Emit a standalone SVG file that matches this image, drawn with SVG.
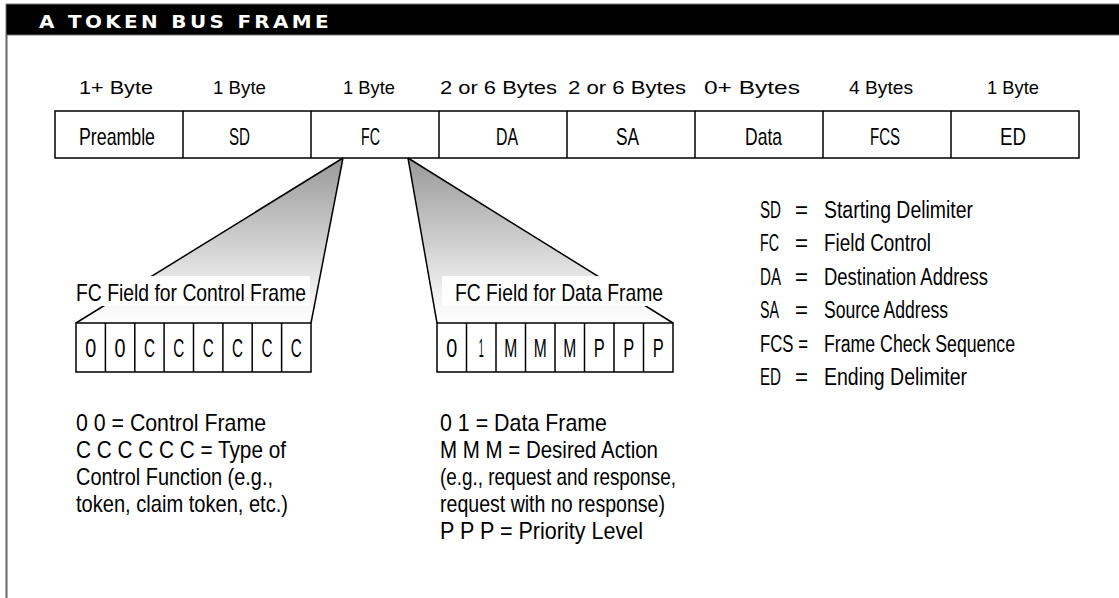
<svg xmlns="http://www.w3.org/2000/svg" width="1119" height="598" viewBox="0 0 1119 598">
<defs>
<linearGradient id="fan" x1="0" y1="0" x2="0" y2="1">
<stop offset="0" stop-color="#999999"/>
<stop offset="0.8" stop-color="#eeeeee"/>
<stop offset="1" stop-color="#ffffff"/>
</linearGradient>
<style>
.t{font-family:"Liberation Sans Narrow","Liberation Sans",Arial,sans-serif;fill:#000}
.b{font-size:19px}
.l{font-size:24px}
.k{font-size:26px;text-anchor:middle}
.g{font-size:23px}
.n{font-size:24px}
.box{fill:#fff;stroke:#000;stroke-width:1.5}
.ln{stroke:#000;stroke-width:1.5;fill:none}
.hdr{font-family:"DejaVu Sans",Verdana,sans-serif;font-weight:bold;font-size:18px;letter-spacing:3px;fill:#fff}
</style>
</defs>
<rect width="1119" height="598" fill="#fff"/>
<g id="header">
<rect x="6" y="4" width="1114" height="31" fill="#000" stroke="#777" stroke-width="1"/>
<line x1="6.5" y1="35" x2="6.5" y2="598" stroke="#666" stroke-width="2"/>
<text class="hdr" x="39" y="28" textLength="293" lengthAdjust="spacingAndGlyphs">A TOKEN BUS FRAME</text>
</g>
<g id="bytes">
<text class="t b" x="79" y="94" textLength="74" lengthAdjust="spacingAndGlyphs">1+ Byte</text>
<text class="t b" x="213" y="94" textLength="53" lengthAdjust="spacingAndGlyphs">1 Byte</text>
<text class="t b" x="343" y="94" textLength="52" lengthAdjust="spacingAndGlyphs">1 Byte</text>
<text class="t b" x="440" y="94" textLength="117" lengthAdjust="spacingAndGlyphs">2 or 6 Bytes</text>
<text class="t b" x="568" y="94" textLength="118" lengthAdjust="spacingAndGlyphs">2 or 6 Bytes</text>
<text class="t b" x="704" y="94" textLength="96" lengthAdjust="spacingAndGlyphs">0+ Bytes</text>
<text class="t b" x="849" y="94" textLength="64" lengthAdjust="spacingAndGlyphs">4 Bytes</text>
<text class="t b" x="987" y="94" textLength="52" lengthAdjust="spacingAndGlyphs">1 Byte</text>
</g>
<g id="frame">
<rect class="box" x="55" y="111" width="1024" height="47"/>
<line class="ln" x1="183" y1="111" x2="183" y2="158"/>
<line class="ln" x1="311" y1="111" x2="311" y2="158"/>
<line class="ln" x1="439" y1="111" x2="439" y2="158"/>
<line class="ln" x1="567" y1="111" x2="567" y2="158"/>
<line class="ln" x1="695" y1="111" x2="695" y2="158"/>
<line class="ln" x1="823" y1="111" x2="823" y2="158"/>
<line class="ln" x1="951" y1="111" x2="951" y2="158"/>
<text class="t l" x="79" y="145" textLength="76" lengthAdjust="spacingAndGlyphs">Preamble</text>
<text class="t l" x="229" y="145" textLength="21" lengthAdjust="spacingAndGlyphs">SD</text>
<text class="t l" x="361" y="145" textLength="19" lengthAdjust="spacingAndGlyphs">FC</text>
<text class="t l" x="496" y="145" textLength="22" lengthAdjust="spacingAndGlyphs">DA</text>
<text class="t l" x="616" y="145" textLength="23" lengthAdjust="spacingAndGlyphs">SA</text>
<text class="t l" x="745" y="145" textLength="37" lengthAdjust="spacingAndGlyphs">Data</text>
<text class="t l" x="870" y="145" textLength="30" lengthAdjust="spacingAndGlyphs">FCS</text>
<text class="t l" x="1000" y="145" textLength="26" lengthAdjust="spacingAndGlyphs">ED</text>
</g>
<g id="connectors">
<polygon points="343,158 311,323 76,323" fill="url(#fan)"/>
<line class="ln" x1="343" y1="158" x2="76" y2="323"/>
<rect x="74" y="276" width="236" height="30" fill="#fff"/>
<line class="ln" x1="343" y1="158" x2="311" y2="323"/>
<polygon points="408,158 437,323 673,323" fill="url(#fan)"/>
<line class="ln" x1="408" y1="158" x2="673" y2="323"/>
<rect x="442" y="276" width="228" height="30" fill="#fff"/>
<line class="ln" x1="408" y1="158" x2="437" y2="323"/>
</g>
<g id="control-frame">
<text class="t l" x="76" y="301" textLength="230" lengthAdjust="spacingAndGlyphs">FC Field for Control Frame</text>
<rect class="box" x="76" y="323" width="235" height="49"/>
<line class="ln" x1="105.4" y1="323" x2="105.4" y2="372"/>
<line class="ln" x1="134.8" y1="323" x2="134.8" y2="372"/>
<line class="ln" x1="164.1" y1="323" x2="164.1" y2="372"/>
<line class="ln" x1="193.5" y1="323" x2="193.5" y2="372"/>
<line class="ln" x1="222.9" y1="323" x2="222.9" y2="372"/>
<line class="ln" x1="252.2" y1="323" x2="252.2" y2="372"/>
<line class="ln" x1="281.6" y1="323" x2="281.6" y2="372"/>
<g class="t k">
<text x="90.7" y="357" textLength="11" lengthAdjust="spacingAndGlyphs">0</text>
<text x="120.1" y="357" textLength="11" lengthAdjust="spacingAndGlyphs">0</text>
<text x="149.4" y="357" textLength="11" lengthAdjust="spacingAndGlyphs">C</text>
<text x="178.8" y="357" textLength="11" lengthAdjust="spacingAndGlyphs">C</text>
<text x="208.2" y="357" textLength="11" lengthAdjust="spacingAndGlyphs">C</text>
<text x="237.6" y="357" textLength="11" lengthAdjust="spacingAndGlyphs">C</text>
<text x="266.9" y="357" textLength="11" lengthAdjust="spacingAndGlyphs">C</text>
<text x="296.3" y="357" textLength="11" lengthAdjust="spacingAndGlyphs">C</text>
</g>
</g>
<g id="data-frame">
<text class="t l" x="455" y="301" textLength="208" lengthAdjust="spacingAndGlyphs">FC Field for Data Frame</text>
<rect class="box" x="437" y="323" width="236" height="49"/>
<line class="ln" x1="466.5" y1="323" x2="466.5" y2="372"/>
<line class="ln" x1="496" y1="323" x2="496" y2="372"/>
<line class="ln" x1="525.5" y1="323" x2="525.5" y2="372"/>
<line class="ln" x1="555" y1="323" x2="555" y2="372"/>
<line class="ln" x1="584.5" y1="323" x2="584.5" y2="372"/>
<line class="ln" x1="614" y1="323" x2="614" y2="372"/>
<line class="ln" x1="643.5" y1="323" x2="643.5" y2="372"/>
<g class="t k">
<text x="451.8" y="357" textLength="11" lengthAdjust="spacingAndGlyphs">0</text>
<text x="481.3" y="357" textLength="5" lengthAdjust="spacingAndGlyphs">1</text>
<text x="510.8" y="357" textLength="13" lengthAdjust="spacingAndGlyphs">M</text>
<text x="540.3" y="357" textLength="13" lengthAdjust="spacingAndGlyphs">M</text>
<text x="569.8" y="357" textLength="13" lengthAdjust="spacingAndGlyphs">M</text>
<text x="599.3" y="357" textLength="11" lengthAdjust="spacingAndGlyphs">P</text>
<text x="628.8" y="357" textLength="11" lengthAdjust="spacingAndGlyphs">P</text>
<text x="658.3" y="357" textLength="11" lengthAdjust="spacingAndGlyphs">P</text>
</g>
</g>
<g id="legend">
<text class="t g" x="760" y="218" textLength="21" lengthAdjust="spacingAndGlyphs">SD</text><text class="t g" x="795" y="218" textLength="13" lengthAdjust="spacingAndGlyphs">=</text><text class="t g" x="824" y="218" textLength="149" lengthAdjust="spacingAndGlyphs">Starting Delimiter</text>
<text class="t g" x="760" y="251" textLength="19" lengthAdjust="spacingAndGlyphs">FC</text><text class="t g" x="795" y="251" textLength="13" lengthAdjust="spacingAndGlyphs">=</text><text class="t g" x="824" y="251" textLength="107" lengthAdjust="spacingAndGlyphs">Field Control</text>
<text class="t g" x="760" y="285" textLength="21" lengthAdjust="spacingAndGlyphs">DA</text><text class="t g" x="795" y="285" textLength="13" lengthAdjust="spacingAndGlyphs">=</text><text class="t g" x="824" y="285" textLength="164" lengthAdjust="spacingAndGlyphs">Destination Address</text>
<text class="t g" x="760" y="318" textLength="19" lengthAdjust="spacingAndGlyphs">SA</text><text class="t g" x="795" y="318" textLength="13" lengthAdjust="spacingAndGlyphs">=</text><text class="t g" x="824" y="318" textLength="124" lengthAdjust="spacingAndGlyphs">Source Address</text>
<text class="t g" x="760" y="352" textLength="48" lengthAdjust="spacingAndGlyphs">FCS =</text><text class="t g" x="824" y="352" textLength="191" lengthAdjust="spacingAndGlyphs">Frame Check Sequence</text>
<text class="t g" x="760" y="385" textLength="21" lengthAdjust="spacingAndGlyphs">ED</text><text class="t g" x="795" y="385" textLength="13" lengthAdjust="spacingAndGlyphs">=</text><text class="t g" x="824" y="385" textLength="143" lengthAdjust="spacingAndGlyphs">Ending Delimiter</text>
</g>
<g id="control-notes">
<text class="t n" x="76" y="431" textLength="190" lengthAdjust="spacingAndGlyphs">0 0 = Control Frame</text>
<text class="t n" x="76" y="458" textLength="210" lengthAdjust="spacingAndGlyphs">C C C C C C = Type of</text>
<text class="t n" x="76" y="485" textLength="197" lengthAdjust="spacingAndGlyphs">Control Function (e.g.,</text>
<text class="t n" x="76" y="512" textLength="212" lengthAdjust="spacingAndGlyphs">token, claim token, etc.)</text>
</g>
<g id="data-notes">
<text class="t n" x="440" y="431" textLength="167" lengthAdjust="spacingAndGlyphs">0 1 = Data Frame</text>
<text class="t n" x="440" y="458" textLength="218" lengthAdjust="spacingAndGlyphs">M M M = Desired Action</text>
<text class="t n" x="440" y="485" textLength="236" lengthAdjust="spacingAndGlyphs">(e.g., request and response,</text>
<text class="t n" x="440" y="512" textLength="225" lengthAdjust="spacingAndGlyphs">request with no response)</text>
<text class="t n" x="440" y="539" textLength="203" lengthAdjust="spacingAndGlyphs">P P P = Priority Level</text>
</g>
</svg>
